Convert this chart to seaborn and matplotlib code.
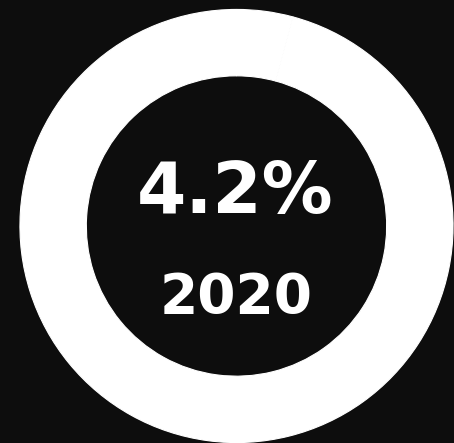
import matplotlib
matplotlib.use("Agg")
import matplotlib.pyplot as plt
import seaborn as sns

# Data
labels = ["2020", "rest"]
values = [4.2, 95.8]
main_label = "4.2%"
year_label = "2020"

bg = "#0d0d0d"
sns.set_theme(style="white", rc={"axes.facecolor": bg, "figure.facecolor": bg})
plt.rcParams["font.family"] = ["DejaVu Sans"]

fig = plt.figure(figsize=(4.54, 4.43), dpi=100)
ax = fig.add_axes([0, 0, 1, 1])
ax.pie(values, colors=["white", "white"], radius=0.998, startangle=90,
       counterclock=False,
       wedgeprops=dict(width=0.306, edgecolor="white", linewidth=0.8))
ax.set_aspect("auto")
ax.set_xlim(-236.5 / 217, (454 - 236.5) / 217)
ax.set_ylim(-1.0, (443 - 217) / 217)
ax.axis("off")

ax.text(-0.007, 0.06, main_label, color="white", fontsize=51, fontweight="bold",
        ha="center", va="baseline")
ax.text(0.0, -0.40, year_label, color="white", fontsize=39.5, fontweight="bold",
        ha="center", va="baseline")

fig.savefig("out.png", dpi=100, facecolor=bg)
